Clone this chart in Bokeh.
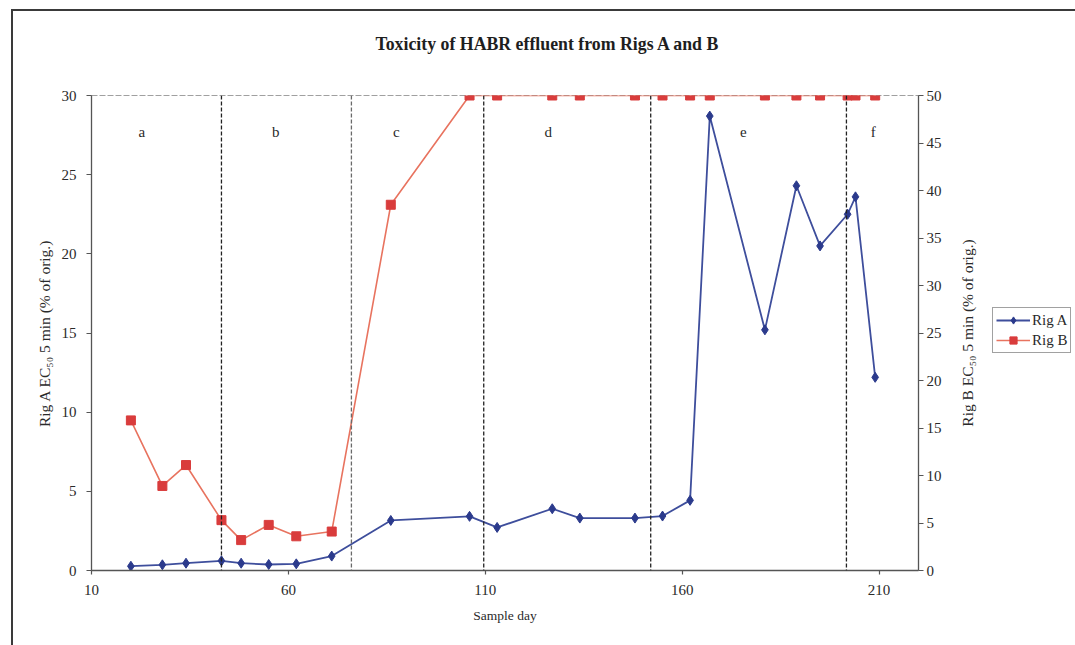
import math
from bokeh.plotting import figure
from bokeh.layouts import row
from bokeh.models import (Range1d, LinearAxis, Legend, LegendItem, Span, Title,
                          FixedTicker, ColumnDataSource)
from bokeh.core.properties import value
from bokeh.embed import file_html
from bokeh.resources import INLINE

# Sample days and toxicity results
days = [20, 28, 34, 43, 48, 55, 62, 71, 86, 106, 113, 127, 134, 148, 155,
        162, 167, 181, 189, 195, 202, 204, 209]
rig_a = [0.27, 0.36, 0.46, 0.61, 0.46, 0.38, 0.42, 0.91, 3.16, 3.42, 2.72,
         3.90, 3.31, 3.31, 3.44, 4.43, 28.7, 15.2, 24.3, 20.5, 22.5, 23.6, 12.2]
rig_b = [15.8, 8.9, 11.1, 5.3, 3.2, 4.8, 3.6, 4.1, 38.5, 50, 50,
         50, 50, 50, 50, 50, 50, 50, 50, 50, 50, 50, 50]

# Operating phases
phase_bounds = [43, 76, 109.6, 152, 201.7]
phase_names = ["a", "b", "c", "d", "e", "f"]
phase_label_days = [22.8, 56.8, 87.4, 126, 175.5, 208.5]

x_ticks = [10, 60, 110, 160, 210]
left_ticks = [0, 5, 10, 15, 20, 25, 30]
right_ticks = [0, 5, 10, 15, 20, 25, 30, 35, 40, 45, 50]

FONT = "Liberation Serif"
AXIS_COLOR = "#555555"
TEXT_COLOR = "#2a2a2a"
BLUE_LINE, BLUE_MARK = "#3e4e9c", "#2b3a8c"
RED_LINE, RED_MARK = "#e8735f", "#d93c3c"

p = figure(width=942, height=634, title=None,
           x_range=Range1d(10, 220), y_range=Range1d(0, 30),
           output_backend="svg", toolbar_location=None,
           min_border_left=78, min_border_right=37,
           min_border_top=84, min_border_bottom=75,
           background_fill_color="white", border_fill_color="white")
p.extra_y_ranges = {"rig_b": Range1d(0, 50)}
p.grid.visible = False
p.outline_line_color = "#a0a0a0"
p.outline_line_dash = "6 2"
p.outline_line_width = 1

# Title, lifted clear of the frame by an empty spacer line
p.add_layout(Title(text=" ", text_font_size="22px"), "above")
p.add_layout(Title(text="Toxicity of HABR effluent from Rigs A and B",
                   align="left", offset=284,
                   text_font=FONT, text_font_size="17.8px",
                   text_font_style="bold", text_color="#1e1e1e"), "above")


def style_axis(ax, ticks):
    ax.ticker = FixedTicker(ticks=ticks)
    ax.axis_line_color = AXIS_COLOR
    ax.axis_line_width = 1.3
    ax.major_tick_line_color = AXIS_COLOR
    ax.major_tick_line_width = 1.2
    ax.major_tick_in = 0
    ax.major_tick_out = 5
    ax.minor_tick_line_color = None
    ax.major_label_text_font = FONT
    ax.major_label_text_font_size = "15px"
    ax.major_label_text_color = TEXT_COLOR
    ax.axis_label_text_font = FONT
    ax.axis_label_text_font_size = "15.5px"
    ax.axis_label_text_font_style = "normal"
    ax.axis_label_text_color = TEXT_COLOR


xa = p.xaxis[0]
style_axis(xa, x_ticks)
xa.axis_label = "Sample day"
xa.axis_label_text_font_size = "13.5px"
xa.major_tick_out = 4
xa.major_label_standoff = 10
xa.axis_label_standoff = 10

ya = p.yaxis[0]
style_axis(ya, left_ticks)
ya.axis_label = "Rig A EC\u2085\u2080 5 min (% of orig.)"
ya.major_label_standoff = 10
ya.axis_label_standoff = 6

yb = LinearAxis(y_range_name="rig_b")
style_axis(yb, right_ticks)
yb.major_label_standoff = 3
p.add_layout(yb, "right")

# Phase boundaries
for i, d in enumerate(phase_bounds):
    p.add_layout(Span(location=d, dimension="height",
                      line_color="#6a6a6a" if i == 1 else "#222222",
                      line_dash="4 2", line_width=1.3))

p.text(x=phase_label_days, y=[27.7] * len(phase_names), text=phase_names,
       text_font=value(FONT), text_font_size="15px", text_color=TEXT_COLOR,
       text_align="center", text_baseline="middle")

src = ColumnDataSource(dict(day=days, a=rig_a, b=rig_b))

p.line("day", "b", source=src, y_range_name="rig_b",
       line_color=RED_LINE, line_width=1.6)
p.scatter("day", "b", source=src, y_range_name="rig_b", marker="square",
          size=9, fill_color=RED_MARK, line_color=RED_MARK)

p.line("day", "a", source=src, line_color=BLUE_LINE, line_width=1.8)
p.scatter("day", "a", source=src, marker="diamond", size=10,
          fill_color=BLUE_MARK, line_color=BLUE_MARK)

# Side panel: Rig B axis title (reading upwards) and the key.
# The key's glyph renderers sit outside the visible range so only the
# legend entries show.
k = figure(width=120, height=634, x_range=Range1d(0, 120), y_range=Range1d(0, 1),
           x_axis_type=None, y_axis_type=None, output_backend="svg",
           toolbar_location=None, min_border=0,
           background_fill_color="white", border_fill_color="white")
k.grid.visible = False
k.outline_line_color = None
k.text(x=[12], y=[0.5], text=["Rig B EC\u2085\u2080 5 min (% of orig.)"],
       angle=math.pi / 2, text_font=value(FONT), text_font_size="15.5px",
       text_color=TEXT_COLOR, text_align="center", text_baseline="middle")

hidden_x, hidden_y = [-5, -4], [-5, -4]
ka_line = k.line(x=hidden_x, y=hidden_y, line_color=BLUE_LINE, line_width=1.8)
ka_mark = k.scatter(x=hidden_x, y=hidden_y, marker="diamond", size=9,
                    fill_color=BLUE_MARK, line_color=BLUE_MARK)
kb_line = k.line(x=hidden_x, y=hidden_y, line_color=RED_LINE, line_width=1.6)
kb_mark = k.scatter(x=hidden_x, y=hidden_y, marker="square", size=8,
                    fill_color=RED_MARK, line_color=RED_MARK)

legend = Legend(items=[LegendItem(label="Rig A", renderers=[ka_line, ka_mark]),
                       LegendItem(label="Rig B", renderers=[kb_line, kb_mark])],
                location=(37, 217), orientation="vertical",
                border_line_color="#444444", border_line_width=1,
                background_fill_color="white",
                label_text_font=FONT, label_text_font_size="15px",
                label_text_color=TEXT_COLOR,
                glyph_width=34, glyph_height=18, label_height=18,
                label_standoff=2, spacing=2, padding=3, margin=0)
k.add_layout(legend, "center")

layout = row(p, k, styles={"margin-left": "11px", "margin-top": "9px",
                           "border-left": "2px solid #3a3a3a",
                           "border-top": "2px solid #3a3a3a"})

open("out.html", "w").write(file_html(layout, INLINE))
